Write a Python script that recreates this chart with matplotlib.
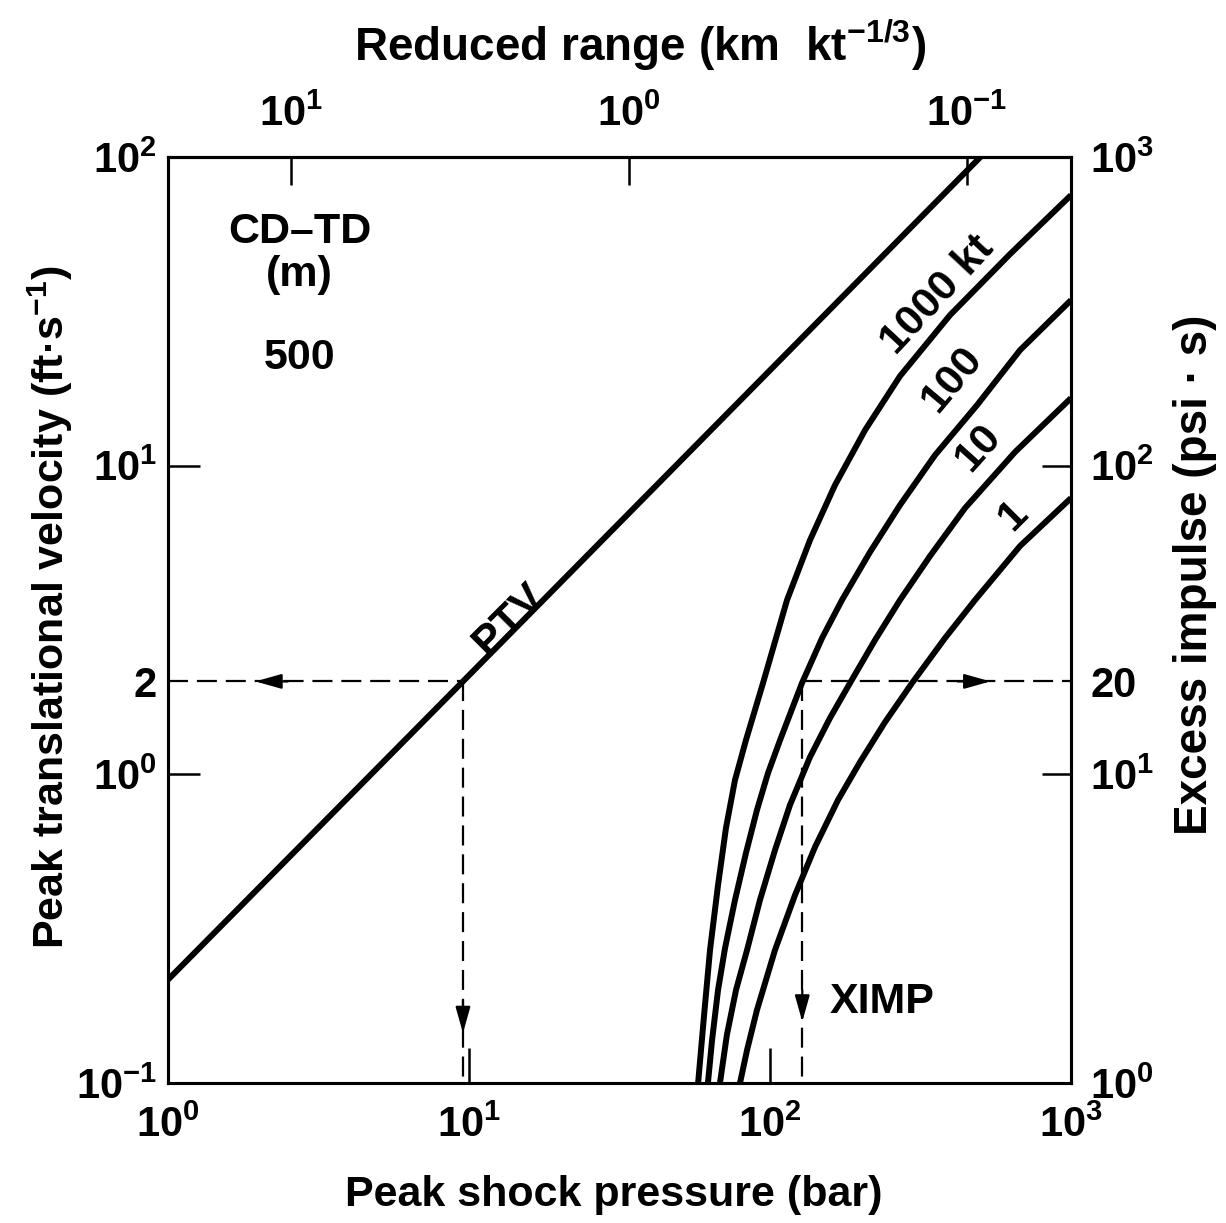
import numpy as np
import matplotlib
matplotlib.use("Agg")
import matplotlib.pyplot as plt

plt.rcParams['font.family'] = ['Liberation Sans', 'DejaVu Sans']
plt.rcParams['font.weight'] = 'bold'
plt.rcParams['mathtext.fontset'] = 'custom'
plt.rcParams['mathtext.rm'] = 'Liberation Sans:bold'
plt.rcParams['mathtext.it'] = 'Liberation Sans:bold'
plt.rcParams['mathtext.bf'] = 'Liberation Sans:bold'

# peak translational velocity (left axis)
ptv_p = [1.0, 9.55, 510.0]
ptv_v = [0.216, 2.0, 102.0]

# excess impulse curves (right axis), pressure in bar, impulse in psi*s
yields = ['1000 kt', '100', '10', '1']
imp_p = [
    [57.7, 60.4, 63.2, 67.2, 71.4, 76.5, 83.2, 94.8, 113.9, 135.8, 164.4, 206.9, 270.3, 396.3, 627.2, 1000],
    [62.2, 64.2, 67.2, 70.9, 76.5, 83.2, 90.5, 98.5, 108.0, 127.7, 148.9, 173.4, 214.9, 270.3, 353.3,
     487.2, 677.0, 1000],
    [68.2, 71.9, 77.1, 83.9, 92.6, 103.9, 116.5, 135.8, 158.2, 184.4, 223.3, 270.3, 340.1, 444.5,
     651.6, 1000],
    [79.5, 83.9, 90.5, 103.9, 121.1, 141.1, 168.2, 199.1, 241.1, 296.4, 381.4, 479.8, 677.0, 1000],
]
imp_i = [
    [1.0, 1.661, 2.697, 4.379, 6.699, 9.583, 12.91, 19.76, 36.70, 57.41, 86.53, 130.4, 195.1, 307.5,
     484.8, 752.6],
    [1.0, 1.378, 2.001, 2.737, 3.915, 5.560, 7.662, 10.10, 12.91, 19.76, 27.64, 36.70, 52.50, 74.55,
     108.2, 157.1, 236.8, 343.9],
    [1.0, 1.431, 2.001, 2.697, 3.915, 5.685, 7.954, 11.38, 15.22, 19.76, 27.23, 36.70, 50.96, 72.90,
     110.7, 165.6],
    [1.0, 1.279, 1.723, 2.697, 4.064, 5.815, 8.256, 10.96, 14.77, 19.76, 27.64, 36.70, 54.91, 78.55],
]

# worked examples (dashed readouts)
ptv_read_p, ptv_read_v = 9.55, 2.0
imp_read_p, imp_read_i = 128.0, 20.0

# reduced range vs pressure: log R = a - b log p
rr_a, rr_b = 1.364, 0.891
rr_ticks = [10.0, 1.0, 0.1]
rr_labels = [r'$10^{1}$', r'$10^{0}$', r'$10^{-1}$']

fig = plt.figure(figsize=(12.26, 12.23), dpi=100)
ax = fig.add_axes([0.137, 0.1145, 0.7366, 0.7571])
ax.set_xscale('log')
ax.set_yscale('log')
ax.set_xlim(1, 1000)
ax.set_ylim(0.1, 100)

ax2 = ax.twinx()
ax2.set_yscale('log')
ax2.set_ylim(1, 1000)

lw_curve = 4.3
ax.plot(ptv_p, ptv_v, color='black', lw=lw_curve, solid_capstyle='butt')
for p, i in zip(imp_p, imp_i):
    ax2.plot(p, i, color='black', lw=lw_curve, solid_capstyle='butt', solid_joinstyle='round')

dash = dict(color='black', lw=1.6, dashes=(9, 4))
ax.plot([1, ptv_read_p], [ptv_read_v, ptv_read_v], **dash)
ax.plot([ptv_read_p, ptv_read_p], [ptv_read_v, 0.1], **dash)
ax2.plot([imp_read_p, 1000], [imp_read_i, imp_read_i], **dash)
ax2.plot([imp_read_p, imp_read_p], [imp_read_i, 1], **dash)

arrow = dict(arrowstyle='-|>,head_length=1.6,head_width=0.45', color='black', lw=1.6,
             shrinkA=0, shrinkB=0)
ax.annotate('', xy=(1.95, ptv_read_v), xytext=(2.5, ptv_read_v), arrowprops=arrow)
ax.annotate('', xy=(ptv_read_p, 0.145), xytext=(ptv_read_p, 0.185), arrowprops=arrow)
ax2.annotate('', xy=(540, imp_read_i), xytext=(420, imp_read_i), arrowprops=arrow)
ax2.annotate('', xy=(imp_read_p, 1.58), xytext=(imp_read_p, 2.0), arrowprops=arrow)

# ticks
fs = 30
ax.set_xticks([1, 10, 100, 1000], [r'$10^{0}$', r'$10^{1}$', r'$10^{2}$', r'$10^{3}$'])
ax.set_yticks([0.1, 1, 2, 10, 100], [r'$10^{-1}$', r'$10^{0}$', '2', r'$10^{1}$', r'$10^{2}$'])
ax2.set_yticks([1, 10, 20, 100, 1000], [r'$10^{0}$', r'$10^{1}$', '20', r'$10^{2}$', r'$10^{3}$'])
ax.minorticks_off()
ax2.minorticks_off()
ax.tick_params(axis='x', direction='in', length=25, width=1.8, labelsize=fs, pad=16)
ax.tick_params(axis='y', direction='in', length=23, width=1.8, labelsize=fs, pad=8)
ax2.tick_params(axis='y', direction='in', length=21, width=1.8, labelsize=fs, pad=14)
ax.yaxis.get_major_ticks()[2].tick1line.set_visible(False)
ax2.yaxis.get_major_ticks()[2].tick2line.set_visible(False)

secax = ax.secondary_xaxis('top', functions=(lambda p: 10 ** rr_a * np.power(np.maximum(p, 1e-9), -rr_b),
                                             lambda r: np.power(10 ** rr_a / np.maximum(r, 1e-9), 1 / rr_b)))
secax.set_xticks(rr_ticks, rr_labels)
secax.minorticks_off()
secax.tick_params(direction='in', length=20, width=1.8, labelsize=fs, pad=16)

for a in (ax, ax2):
    for s in a.spines.values():
        s.set_linewidth(2.2)
secax.spines['top'].set_linewidth(2.2)

# annotations
afs = 31
tkw = dict(transform=ax.transAxes, fontsize=afs, ha='center', va='center')
ax.text(0.146, 0.919, 'CD–TD', **tkw)
ax.text(0.146, 0.873, '(m)', **tkw)
ax.text(0.146, 0.783, '500', **tkw)
ax.text(0.378, 0.500, 'PTV', rotation=45, **tkw)
ax.text(0.852, 0.851, yields[0], rotation=47, **tkw)
ax.text(0.868, 0.760, yields[1], rotation=50, **tkw)
ax.text(0.897, 0.686, yields[2], rotation=48, **tkw)
ax.text(0.936, 0.613, yields[3], rotation=45, **tkw)
ax.text(0.733, 0.0875, 'XIMP', transform=ax.transAxes, fontsize=afs, ha='left', va='center')

lfs = 31
fig.text(614 / 1226, 1 - 1195 / 1223, 'Peak shock pressure (bar)', fontsize=lfs, ha='center', va='center')
fig.text(50 / 1226, 1 - 607 / 1223, 'Peak translational velocity (ft·s$^{-1}$)', fontsize=lfs,
         rotation=90, ha='center', va='center')
fig.text(1195 / 1226, 1 - 575 / 1223, 'Excess impulse (psi · s)', fontsize=33,
         rotation=90, ha='center', va='center')
fig.text(640 / 1226, 1 - 45 / 1223, 'Reduced range (km  kt$^{-1/3}$)', fontsize=33,
         family=['Liberation Sans Narrow', 'Liberation Sans'], ha='center', va='center')

fig.savefig('out.png', dpi=100)
